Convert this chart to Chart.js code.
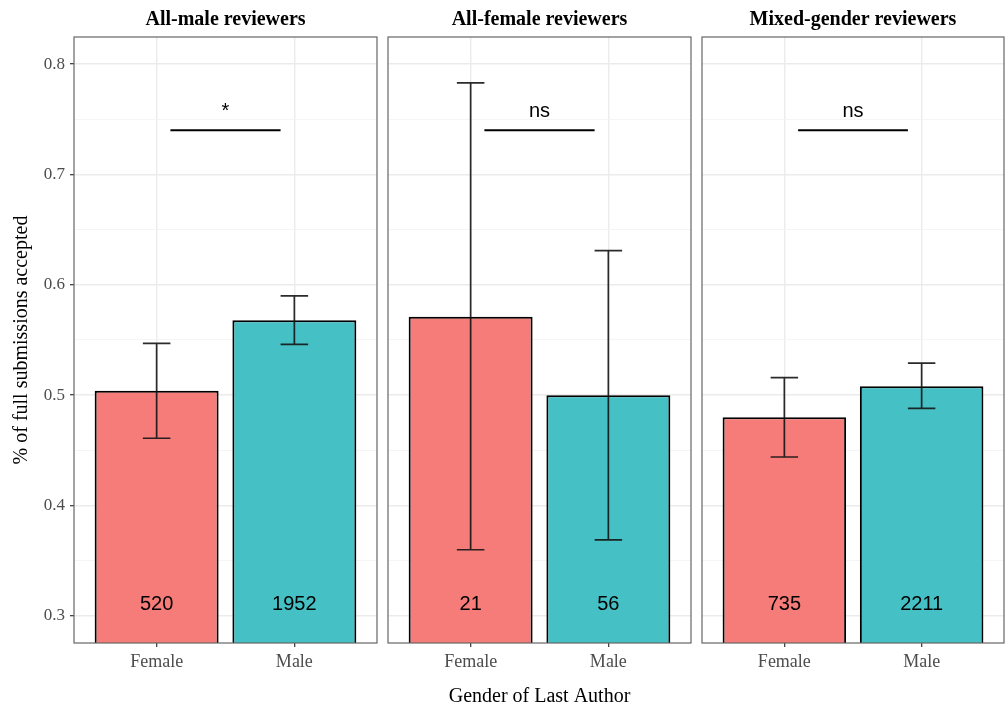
<!DOCTYPE html>
<html>
<head>
<meta charset="utf-8">
<script src="https://cdn.jsdelivr.net/npm/chart.js@4"></script>
<style>
  html, body { margin: 0; padding: 0; background: #fff; }
  #wrap { position: relative; width: 1008px; height: 707px; }
  #wrap canvas { position: absolute; left: 0; top: 0; }
</style>
</head>
<body>
<div id="wrap">
  <canvas id="panel0" width="1008" height="707"></canvas>
  <canvas id="panel1" width="1008" height="707"></canvas>
  <canvas id="panel2" width="1008" height="707"></canvas>
</div>
<script>
// data
const genders = ['Female', 'Male'];
const facetTitles = ['All-male reviewers', 'All-female reviewers', 'Mixed-gender reviewers'];

const allMaleRate = [0.504, 0.568];
const allMaleLow = [0.461, 0.546];
const allMaleHigh = [0.547, 0.590];
const allMaleN = [520, 1952];

const allFemaleRate = [0.571, 0.500];
const allFemaleLow = [0.360, 0.369];
const allFemaleHigh = [0.783, 0.631];
const allFemaleN = [21, 56];

const mixedRate = [0.480, 0.508];
const mixedLow = [0.444, 0.488];
const mixedHigh = [0.516, 0.529];
const mixedN = [735, 2211];

const sigLabels = ['*', 'ns', 'ns'];
const bracketY = 0.74;
const sigTextY = 0.752;
const countTextY = 0.31;

const yMajorTicks = [0.3, 0.4, 0.5, 0.6, 0.7, 0.8];
const yMinorTicks = [0.35, 0.45, 0.55, 0.65, 0.75];

const panels = [
  { title: facetTitles[0], rate: allMaleRate, low: allMaleLow, high: allMaleHigh, n: allMaleN, sig: sigLabels[0] },
  { title: facetTitles[1], rate: allFemaleRate, low: allFemaleLow, high: allFemaleHigh, n: allFemaleN, sig: sigLabels[1] },
  { title: facetTitles[2], rate: mixedRate, low: mixedLow, high: mixedHigh, n: mixedN, sig: sigLabels[2] }
];

const SERIF = '"Liberation Serif", "Times New Roman", serif';
const SANS = '"Liberation Sans", Arial, Helvetica, sans-serif';
const fillCols = ['#f57c79', '#45c1c6'];

// where each panel's plot area sits (left, right padding of the canvas)
const pads = [
  { left: 0, right: 631 },
  { left: 388, right: 317 },
  { left: 702, right: 4 }
];

const isMajor = v => yMajorTicks.some(t => Math.abs(t - v) < 1e-6);

// error bars, counts, significance bracket and panel frame
const panelExtras = {
  id: 'panelExtras',
  afterDatasetsDraw(chart, args, opts) {
    const { ctx, chartArea: a, scales: { x, y } } = chart;
    const p = panels[opts.idx];
    ctx.save();

    ctx.strokeStyle = 'rgba(20,20,20,0.9)';
    ctx.lineWidth = 1.7;
    p.low.forEach((lo, i) => {
      const cx = x.getPixelForValue(i);
      const x0 = x.getPixelForValue(i - 0.1);
      const x1 = x.getPixelForValue(i + 0.1);
      const yl = y.getPixelForValue(lo);
      const yh = y.getPixelForValue(p.high[i]);
      ctx.beginPath();
      ctx.moveTo(cx, yl); ctx.lineTo(cx, yh);
      ctx.moveTo(x0, yl); ctx.lineTo(x1, yl);
      ctx.moveTo(x0, yh); ctx.lineTo(x1, yh);
      ctx.stroke();
    });

    ctx.fillStyle = '#000';
    ctx.font = '20px ' + SANS;
    ctx.textAlign = 'center';
    ctx.textBaseline = 'middle';
    p.n.forEach((n, i) => {
      ctx.fillText(String(n), x.getPixelForValue(i), y.getPixelForValue(countTextY));
    });

    ctx.strokeStyle = '#000';
    ctx.lineWidth = 1.8;
    const by = y.getPixelForValue(bracketY);
    ctx.beginPath();
    ctx.moveTo(x.getPixelForValue(0.1), by);
    ctx.lineTo(x.getPixelForValue(0.9), by);
    ctx.stroke();
    ctx.textBaseline = 'alphabetic';
    ctx.fillText(p.sig, x.getPixelForValue(0.5), y.getPixelForValue(sigTextY));

    ctx.strokeStyle = '#666';
    ctx.lineWidth = 1.2;
    ctx.strokeRect(a.left, a.top, a.right - a.left, a.bottom - a.top);
    ctx.restore();
  }
};

panels.forEach((p, idx) => {
  const first = idx === 0;
  new Chart(document.getElementById('panel' + idx), {
    type: 'bar',
    data: {
      datasets: [{
        data: genders.map((g, i) => ({ x: i, y: p.rate[i] })),
        backgroundColor: fillCols,
        borderColor: '#000',
        borderWidth: 2,
        borderSkipped: 'start',
        barPercentage: 0.9,
        categoryPercentage: 1.0
      }]
    },
    plugins: [panelExtras],
    options: {
      responsive: false,
      animation: false,
      events: [],
      layout: { padding: { left: pads[idx].left, right: pads[idx].right, top: 0, bottom: 0 } },
      plugins: {
        legend: { display: false },
        tooltip: { enabled: false },
        title: {
          display: true,
          text: p.title,
          fullSize: false,
          color: '#000',
          font: { family: SERIF, size: 20, weight: 'bold', lineHeight: 1 },
          padding: { top: 10, bottom: 7 }
        },
        panelExtras: { idx: idx }
      },
      scales: {
        x: {
          type: 'linear',
          min: -0.6,
          max: 1.6,
          offset: false,
          afterBuildTicks: s => { s.ticks = genders.map((g, i) => ({ value: i })); },
          afterFit: s => { s.height = 64; },
          ticks: {
            callback: v => genders[v],
            color: '#4d4d4d',
            font: { family: SERIF, size: 18 },
            padding: 4
          },
          grid: { offset: false, color: '#ebebeb', lineWidth: 1.4, tickColor: '#333', tickLength: 4, tickWidth: 1.2 },
          border: { display: false },
          title: {
            display: idx === 1,
            text: 'Gender of Last Author',
            color: '#000',
            font: { family: SERIF, size: 20, lineHeight: 1 },
            padding: { top: 0, bottom: 0 }
          }
        },
        y: {
          min: 0.2755,
          max: 0.8245,
          afterBuildTicks: s => {
            s.ticks = yMajorTicks.concat(yMinorTicks).sort((a, b) => a - b).map(v => ({ value: v }));
          },
          afterFit: s => { s.width = first ? 74 : 0; },
          ticks: {
            display: first,
            callback: v => isMajor(v) ? v.toFixed(1) : '',
            color: '#4d4d4d',
            font: { family: SERIF, size: 17 },
            padding: 5
          },
          grid: {
            drawTicks: first,
            tickLength: 4,
            tickWidth: 1.2,
            color: c => isMajor(c.tick.value) ? '#ebebeb' : '#f3f3f3',
            lineWidth: c => isMajor(c.tick.value) ? 1.4 : 0.8,
            tickColor: c => isMajor(c.tick.value) ? '#333' : 'rgba(0,0,0,0)'
          },
          border: { display: false },
          title: {
            display: first,
            text: '% of full submissions accepted',
            color: '#000',
            font: { family: SERIF, size: 20, lineHeight: 1 },
            padding: { top: 12, bottom: 0 }
          }
        }
      }
    }
  });
});
</script>
</body>
</html>
